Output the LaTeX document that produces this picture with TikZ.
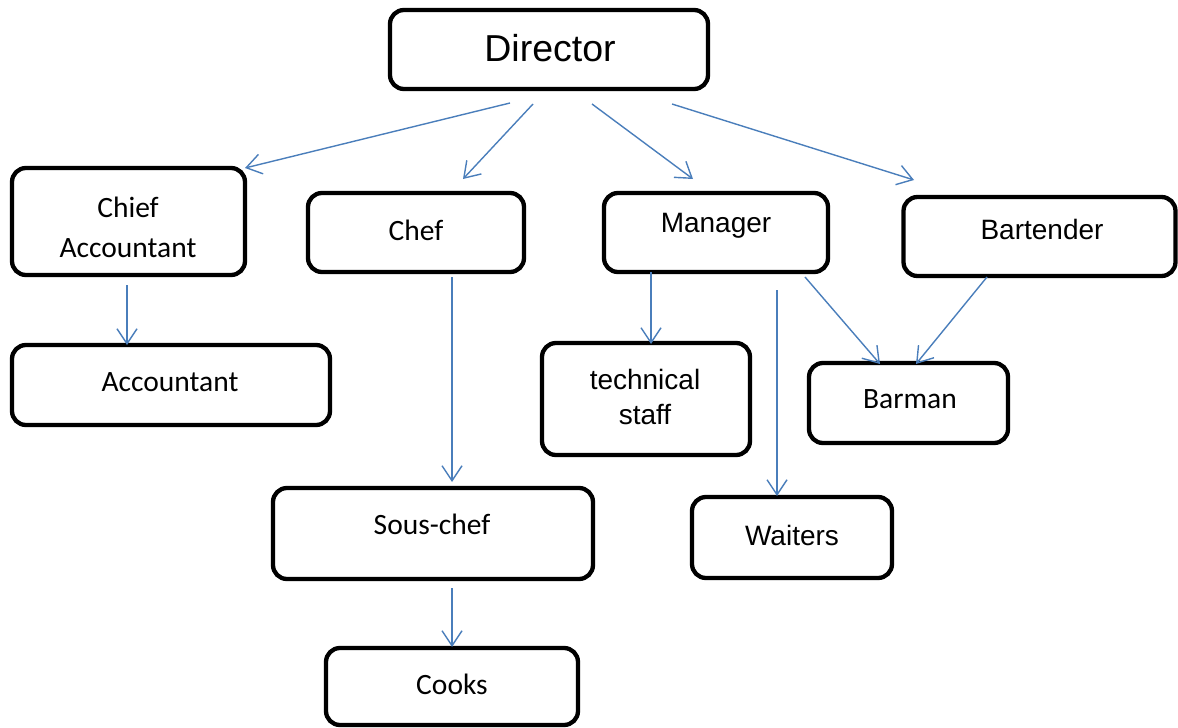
\documentclass[tikz,border=0pt]{standalone}
\usepackage{fontspec}
\setmainfont{Liberation Sans}
\newfontfamily\calfont{Carlito}
\usetikzlibrary{arrows.meta}
\definecolor{arrblue}{HTML}{4A7EBB}
\begin{document}
\begin{tikzpicture}[x=1pt,y=-1pt,
  orgbox/.style={draw=black,line width=4.3pt,rounded corners=14pt,fill=none,inner sep=0pt},
  ar/.style={draw=arrblue,line width=1.4pt,-{Straight Barb[length=15pt,width=20pt,line width=1.4pt]}},
  arialtxt/.style={font=\fontsize{28}{35}\selectfont,align=center,inner sep=0pt},
  caltxt/.style={font=\calfont\fontsize{29.5}{40}\selectfont,align=center,inner sep=0pt}]
\useasboundingbox (0,0) rectangle (1178,728);
% boxes
\node[orgbox,minimum width=318pt,minimum height=79pt] (director) at (549,49.5) {};
\node[orgbox,minimum width=233pt,minimum height=107pt] (chiefacc) at (128.5,221.5) {};
\node[orgbox,minimum width=318pt,minimum height=80pt] (accountant) at (171,385) {};
\node[orgbox,minimum width=216pt,minimum height=79pt] (chef) at (416,232.5) {};
\node[orgbox,minimum width=224pt,minimum height=79pt] (manager) at (716,232.5) {};
\node[orgbox,minimum width=272pt,minimum height=79pt] (bartender) at (1039.5,236.5) {};
\node[orgbox,minimum width=208pt,minimum height=112pt] (techstaff) at (646,399) {};
\node[orgbox,minimum width=199pt,minimum height=80pt] (barman) at (908.5,403) {};
\node[orgbox,minimum width=320pt,minimum height=91pt] (souschef) at (433,533.5) {};
\node[orgbox,minimum width=200pt,minimum height=81pt] (waiters) at (792,537.5) {};
\node[orgbox,minimum width=252pt,minimum height=77pt] (cooks) at (452,686.5) {};
% texts
\node[arialtxt,font=\fontsize{37.5}{42}\selectfont] (tdirector) at (550,48) {Director};
\node[caltxt] (tchiefacc) at (128,227) {Chief\\Accountant};
\node[caltxt] (taccountant) at (170,382) {Accountant};
\node[caltxt] (tchef) at (416,230) {Chef};
\node[arialtxt] (tmanager) at (716,226) {Manager};
\node[arialtxt] (tbartender) at (1042,229) {Bartender};
\node[arialtxt] (ttech) at (645,397) {technical\\staff};
\node[caltxt] (tbarman) at (910,399) {Barman};
\node[caltxt] (tsous) at (432,524) {Sous-chef};
\node[arialtxt] (twaiters) at (792,535) {Waiters};
\node[caltxt] (tcooks) at (452,684) {Cooks};
% arrow end points
\coordinate (d1) at (510,103); \coordinate (ca1) at (245,168);
\coordinate (d2) at (533,104); \coordinate (ch1) at (463,179);
\coordinate (d3) at (592,104); \coordinate (m1) at (693,179);
\coordinate (d4) at (672,104); \coordinate (b1) at (914,180);
\coordinate (ca2) at (127,285); \coordinate (ac1) at (127,345);
\coordinate (ch2) at (452,277); \coordinate (sc1) at (452,482);
\coordinate (sc2) at (452,588); \coordinate (co1) at (452,647);
\coordinate (m2) at (651,272); \coordinate (ts1) at (651,344);
\coordinate (m3) at (777,290); \coordinate (w1) at (777,496);
\coordinate (m4) at (805,277); \coordinate (bm1) at (880,364);
\coordinate (b2) at (987,277); \coordinate (bm2) at (916,364);
% connectors
\draw[ar] (d1) -- (ca1);
\draw[ar] (d2) -- (ch1);
\draw[ar] (d3) -- (m1);
\draw[ar] (d4) -- (b1);
\draw[ar] (ca2) -- (ac1);
\draw[ar] (ch2) -- (sc1);
\draw[ar] (sc2) -- (co1);
\draw[ar] (m2) -- (ts1);
\draw[ar] (m3) -- (w1);
\draw[ar] (m4) -- (bm1);
\draw[ar] (b2) -- (bm2);
\end{tikzpicture}
\end{document}
